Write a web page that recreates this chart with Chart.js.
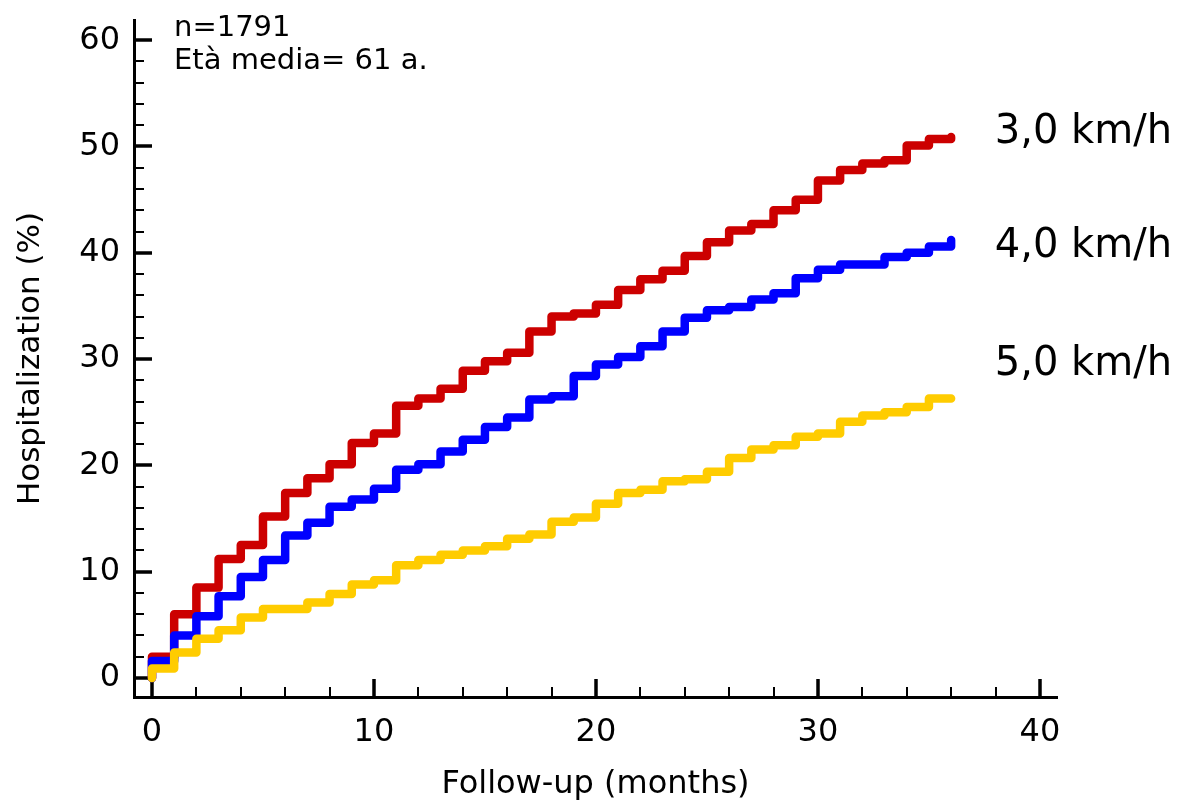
<!DOCTYPE html>
<html>
<head>
<meta charset="utf-8">
<script src="https://cdn.jsdelivr.net/npm/chart.js@4.4.1/dist/chart.umd.min.js"></script>
<style>
  html, body { margin: 0; padding: 0; background: #fff; }
  #chart { display: block; }
</style>
</head>
<body>
<canvas id="chart" width="1180" height="810"></canvas>
<script>
// follow-up month at which each step starts
const months = [0, 1, 2, 3, 4, 5, 6, 7, 8, 9, 10, 11, 12, 13, 14, 15, 16, 17, 18,
                19, 20, 21, 22, 23, 24, 25, 26, 27, 28, 29, 30, 31, 32, 33, 34, 35, 36];

// cumulative hospitalization (%) by walking speed
const speed30 = [2.0, 6.0, 8.5, 11.2, 12.5, 15.2, 17.4, 18.8, 20.1, 22.1, 23.0, 25.6, 26.3,
                 27.2, 28.9, 29.8, 30.6, 32.6, 34.0, 34.3, 35.1, 36.5, 37.5, 38.3, 39.7,
                 41.0, 42.1, 42.7, 44.0, 45.0, 46.8, 47.8, 48.4, 48.7, 50.1, 50.7, 50.9];
const speed40 = [1.6, 4.0, 5.8, 7.7, 9.5, 11.1, 13.4, 14.6, 16.1, 16.8, 17.8, 19.6, 20.1,
                 21.3, 22.4, 23.6, 24.5, 26.2, 26.5, 28.4, 29.5, 30.2, 31.2, 32.6, 33.9,
                 34.6, 34.9, 35.6, 36.2, 37.6, 38.4, 38.9, 38.9, 39.6, 40.0, 40.6, 41.2];
const speed50 = [0.9, 2.4, 3.7, 4.5, 5.7, 6.5, 6.5, 7.1, 7.9, 8.8, 9.2, 10.6, 11.1,
                 11.6, 12.0, 12.4, 13.1, 13.5, 14.7, 15.1, 16.4, 17.4, 17.7, 18.5, 18.7,
                 19.4, 20.7, 21.5, 21.9, 22.7, 23.0, 24.1, 24.7, 25.0, 25.5, 26.3, 26.3];

const seriesLabels = ['3,0 km/h', '4,0 km/h', '5,0 km/h'];
const seriesColors = ['#cc0000', '#0000ff', '#ffcc00'];

const xTicks = [0, 10, 20, 30, 40];
const yTicks = [0, 10, 20, 30, 40, 50, 60];
const infoLines = ['n=1791', 'Età media= 61 a.'];

const FONT = 'DejaVu Sans';

function toSteps(values) {
  // every curve starts from 0% at month 0
  const pts = [{ x: months[0], y: 0 }];
  months.forEach((m, i) => pts.push({ x: m, y: values[i] }));
  return pts;
}

// tick marks pointing into the plot, major every 10, minor every 2
const innerTicks = {
  id: 'innerTicks',
  beforeDatasetsDraw(chart) {
    const { ctx, chartArea, scales: { x, y } } = chart;
    ctx.save();
    ctx.strokeStyle = '#000';
    for (let v = 0; v <= 40; v += 2) {
      const major = v % 10 === 0;
      const px = Math.round(x.getPixelForValue(v));
      ctx.lineWidth = major ? 3.5 : 2;
      ctx.beginPath();
      ctx.moveTo(px, chartArea.bottom + 1);
      ctx.lineTo(px, chartArea.bottom - (major ? 18 : 10));
      ctx.stroke();
    }
    for (let v = 0; v <= 60; v += 2) {
      const major = v % 10 === 0;
      const py = Math.round(y.getPixelForValue(v));
      ctx.lineWidth = major ? 3.5 : 2;
      ctx.beginPath();
      ctx.moveTo(chartArea.left - 1, py);
      ctx.lineTo(chartArea.left + (major ? 18 : 10), py);
      ctx.stroke();
    }
    ctx.restore();
  }
};

// curve names on the right and the sample note in the top corner
const textNotes = {
  id: 'textNotes',
  afterDatasetsDraw(chart) {
    const { ctx, scales: { x, y } } = chart;
    ctx.save();
    ctx.fillStyle = '#000';
    ctx.textAlign = 'left';
    ctx.textBaseline = 'alphabetic';
    ctx.font = '40px "' + FONT + '"';
    const labelY = [50.3, 39.6, 28.5];
    seriesLabels.forEach((t, i) => {
      ctx.fillText(t, x.getPixelForValue(38.1) - 3, y.getPixelForValue(labelY[i]));
    });
    ctx.font = '29px "' + FONT + '"';
    infoLines.forEach((t, i) => {
      ctx.fillText(t, 174, 36 + i * 33);
    });
    ctx.restore();
  }
};

new Chart(document.getElementById('chart'), {
  type: 'line',
  data: {
    datasets: [speed30, speed40, speed50].map((vals, i) => ({
      label: seriesLabels[i],
      data: toSteps(vals),
      borderColor: seriesColors[i],
      backgroundColor: seriesColors[i],
      borderWidth: 8.5,
      borderCapStyle: 'round',
      borderJoinStyle: 'round',
      stepped: true,
      pointRadius: 0,
      fill: false,
      order: 2 - i
    }))
  },
  options: {
    responsive: false,
    animation: false,
    layout: { padding: { top: 20, right: 123, left: 0, bottom: 0 } },
    plugins: { legend: { display: false }, tooltip: { enabled: false } },
    scales: {
      x: {
        type: 'linear',
        position: 'bottom',
        min: -0.81,
        max: 40.77,
        afterBuildTicks: s => { s.ticks = xTicks.map(v => ({ value: v })); },
        afterFit: s => { s.height = 113; s.paddingLeft = 0; s.paddingRight = 0; },
        grid: { display: false, drawTicks: false },
        border: { display: true, color: '#000', width: 3 },
        ticks: {
          color: '#000', font: { family: FONT, size: 32 }, padding: 16,
          maxRotation: 0, autoSkip: false
        },
        title: {
          display: true, text: 'Follow-up (months)', color: '#000',
          font: { family: FONT, size: 32 }, padding: { top: 0, bottom: 6 }
        }
      },
      y: {
        type: 'linear',
        min: -1.79,
        max: 61.9,
        afterBuildTicks: s => { s.ticks = yTicks.map(v => ({ value: v })); },
        afterFit: s => { s.width = 134; s.paddingTop = 0; s.paddingBottom = 0; },
        grid: { display: false, drawTicks: false },
        border: { display: true, color: '#000', width: 3 },
        ticks: { color: '#000', font: { family: FONT, size: 32 }, padding: 14, autoSkip: false },
        title: {
          display: true, text: 'Hospitalization (%)', color: '#000',
          font: { family: FONT, size: 31 }, padding: { top: 12, bottom: 0 }
        }
      }
    }
  },
  plugins: [innerTicks, textNotes]
});
</script>
</body>
</html>
